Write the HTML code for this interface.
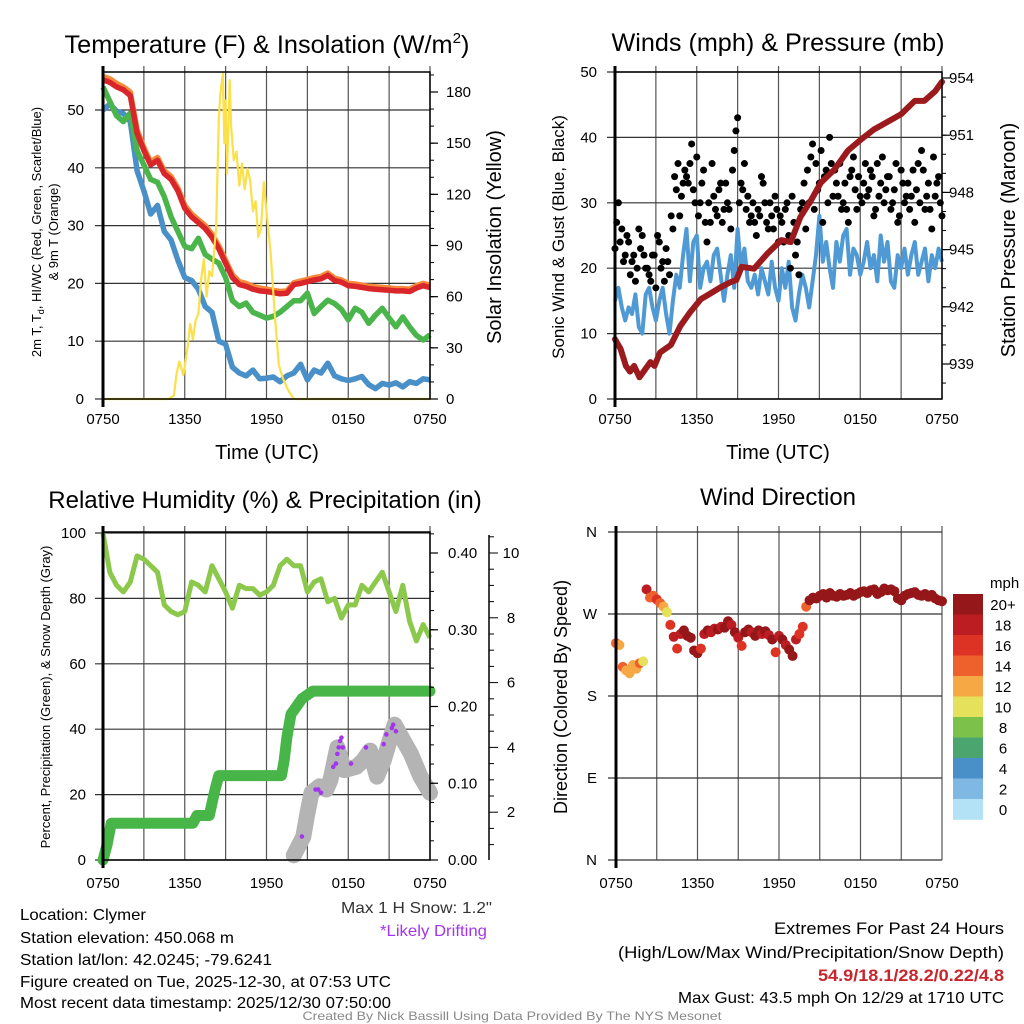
<!DOCTYPE html>
<html><head><meta charset="utf-8"><style>
html,body{margin:0;padding:0;background:#fff;}
svg{display:block;font-family:"Liberation Sans",sans-serif;}
</style></head><body>
<svg id="fig" width="1024" height="1024" viewBox="0 0 1024 1024" xmlns="http://www.w3.org/2000/svg">
<rect width="1024" height="1024" fill="#fff"/>
<g id="layer"></g>
<text x="267" y="53" font-size="25" text-anchor="middle" textLength="405" lengthAdjust="spacingAndGlyphs">Temperature (F) &amp; Insolation (W/m<tspan font-size="15" dy="-10">2</tspan><tspan dy="10">)</tspan></text>
<text x="778" y="51" font-size="25" text-anchor="middle" textLength="333" lengthAdjust="spacingAndGlyphs">Winds (mph) &amp; Pressure (mb)</text>
<text x="265" y="508" font-size="24" text-anchor="middle">Relative Humidity (%) &amp; Precipitation (in)</text>
<text x="778" y="505" font-size="24" text-anchor="middle">Wind Direction</text>
<text x="267" y="459" font-size="20" text-anchor="middle">Time (UTC)</text>
<text x="778" y="459" font-size="20" text-anchor="middle">Time (UTC)</text>
<text font-size="13" text-anchor="middle" transform="translate(41,232) rotate(-90)">2m T, T<tspan font-size="9" dy="3">d</tspan><tspan dy="-3">, HI/WC (Red, Green, Scarlet/Blue)</tspan></text>
<text font-size="13" text-anchor="middle" transform="translate(58,232) rotate(-90)">&amp; 9m T (Orange)</text>
<text font-size="20" text-anchor="middle" transform="translate(501,237) rotate(-90)">Solar Insolation (Yellow)</text>
<text font-size="17" text-anchor="middle" transform="translate(564,237) rotate(-90)">Sonic Wind &amp; Gust (Blue, Black)</text>
<text font-size="20" text-anchor="middle" transform="translate(1015,240) rotate(-90)">Station Pressure (Maroon)</text>
<text font-size="13" text-anchor="middle" transform="translate(50,697) rotate(-90)">Percent, Precipitation (Green), &amp; Snow Depth (Gray)</text>
<text font-size="18" text-anchor="middle" transform="translate(567,697) rotate(-90)">Direction (Colored By Speed)</text>
<text x="492" y="913" font-size="16" text-anchor="end" fill="#333" textLength="151" lengthAdjust="spacingAndGlyphs">Max 1 H Snow: 1.2"</text>
<text x="487" y="936" font-size="16" text-anchor="end" fill="#a335ee" textLength="107" lengthAdjust="spacingAndGlyphs">*Likely Drifting</text>
<text x="20" y="920" font-size="16" textLength="126" lengthAdjust="spacingAndGlyphs">Location: Clymer</text>
<text x="20" y="943" font-size="16" textLength="214" lengthAdjust="spacingAndGlyphs">Station elevation: 450.068 m</text>
<text x="20" y="965" font-size="16" textLength="252" lengthAdjust="spacingAndGlyphs">Station lat/lon: 42.0245; -79.6241</text>
<text x="20" y="987" font-size="16" textLength="371" lengthAdjust="spacingAndGlyphs">Figure created on Tue, 2025-12-30, at 07:53 UTC</text>
<text x="20" y="1008" font-size="16" textLength="371" lengthAdjust="spacingAndGlyphs">Most recent data timestamp: 2025/12/30 07:50:00</text>
<text x="1004" y="934" font-size="17" text-anchor="end" textLength="230" lengthAdjust="spacingAndGlyphs">Extremes For Past 24 Hours</text>
<text x="1004" y="958" font-size="17" text-anchor="end" textLength="386" lengthAdjust="spacingAndGlyphs">(High/Low/Max Wind/Precipitation/Snow Depth)</text>
<text x="1004" y="981" font-size="17" font-weight="bold" fill="#c8262d" text-anchor="end" textLength="186" lengthAdjust="spacingAndGlyphs">54.9/18.1/28.2/0.22/4.8</text>
<text x="1004" y="1003" font-size="16" text-anchor="end" textLength="326" lengthAdjust="spacingAndGlyphs">Max Gust: 43.5 mph On 12/29 at 1710 UTC</text>
<text x="512" y="1020" font-size="12" fill="#888" text-anchor="middle" textLength="419" lengthAdjust="spacingAndGlyphs">Created By Nick Bassill Using Data Provided By The NYS Mesonet</text>
</svg>
<script>
const xTickLabels = ["0750","1350","1950","0150","0750"];
const hours = [0,0.5,1,1.5,2,2.5,3,3.5,4,4.5,5,5.5,6,6.5,7,7.5,8,8.5,9,9.5,10,10.5,11,11.5,12,12.5,13,13.5,14,14.5,15,15.5,16,16.5,17,17.5,18,18.5,19,19.5,20,20.5,21,21.5,22,22.5,23,23.5,24];
const tempF = [55.2,54.8,54,53.5,52.5,46,43,40.5,41.3,39,38,36,33,31.5,30.5,29.5,28,26,23.5,21,19.8,19.5,19,18.7,18.6,18.4,18.2,18.3,19.8,20,20.3,20.6,20.8,21.4,20.5,20.2,19.6,19.5,19.3,19.1,19,18.9,18.8,18.7,18.7,18.6,19.2,19.6,19.3];
const dewF = [54,51.5,49,48,49.5,43,40.5,38,37.5,35,31.5,29,26.4,26,27.8,25,24.2,23.5,21,17,16,16.6,15,14.5,14,14.3,15,16,17,17,18.3,14.8,16,17.1,16.5,15.5,13.7,15.7,15,13.1,14.5,15.7,14,12.5,14.2,12.5,11,10.2,11.1];
const windChillF = [50,51,49.8,49.4,48,39.5,36,32,33.5,29,27.5,24,21,20.5,19,16,15,10,9.5,5.5,4.5,4,5,3.5,3.6,3.8,3,4,4.5,6,3.3,5,4.5,6.2,4,3.5,3.2,3.5,3.9,2.5,1.8,2.7,2.4,2.8,2.1,3,2.7,3.5,3.3];
const temp9mF = [55.8,55.4,54.6,54,53.1,46.6,43.5,41,41.8,39.5,38.5,36.5,33.5,32,31,30,28.5,26.5,24,21.5,20.3,20,19.5,19.2,19,18.8,18.6,18.7,20.1,20.4,20.7,21,21.2,21.8,20.9,20.6,20,19.9,19.7,19.5,19.4,19.3,19.2,19.1,19.1,19,19.6,20,19.7];
const solarHours = [0,4.8,5.2,5.4,5.6,5.9,6.2,6.4,6.6,6.8,7.0,7.2,7.4,7.6,7.8,8.0,8.2,8.3,8.5,8.6,8.8,8.9,9.0,9.1,9.3,9.4,9.6,9.8,10.0,10.2,10.4,10.6,10.8,11.0,11.2,11.4,11.6,11.8,12.0,12.3,12.6,12.9,13.2,13.6,14.0,24];
const solarW = [0,0,2,15,22,14,30,44,35,46,50,70,82,60,75,72,91,100,164,178,191,150,175,132,187,160,140,145,125,138,123,135,128,110,116,95,100,127,110,86,50,20,12,5,0,0];
const sonicStep = 0.25;
const sonicWind = [15,17,14,12,14,13,16,11,10, 16,17,14,12,15,17,13,10, 15,19,17,22,26,18,24,25, 17,20,21,18,22,23,19,15, 19,22,17,26,20,23,18,17, 19,16,20,18,16,21,17,15, 20,17,21,14,12,16,19,17, 14,18,22,28,21,24,20,17, 24,21,25,26,19,23,22,19, 21,24,20,22,18,25,21,24, 18,17,22,20,23,19,22,24, 19,21,23,18,22,20,23,21];
const gustHoursStep = 0.25;
const gusts = [23,30,26,22,24,21,18,26,25, 20,19,22,17,24,21,23,19, 26,32,28,33,34,36,32,37, 30,35,24,27,31,28,33,29, 30,26,38,43,33,36,31,28, 27,29,34,30,26,28,31,24, 27,29,25,31,22,19,30,26, 30,39,36,33,27,35,40,31, 33,36,30,29,34,37,29,31, 33,31,35,28,36,33,30,34, 29,32,27,35,30,33,31,27, 36,38,29,33,26,31,34,28];
const gusts2 = [27,24,21,25,19,22,20,23, 22,20,18,22,25,20,18,21, 28,34,36,31,35,33,39,30, 28,33,27,30,36,29,32,27, 33,29,35,41,30,32,29,27, 30,25,28,33,27,30,26,29, 28,24,30,20,27,24,29,33, 35,37,29,32,38,34,30,36, 35,31,29,33,27,35,32,34, 30,36,32,34,29,31,37,32, 34,30,36,28,33,31,29,35, 32,30,35,31,29,37,33,30];
const pressHours = [0,0.4,0.8,1.1,1.4,1.8,2.6,2.9,3.3,4.1,4.8,5.5,6.3,7,7.7,8.5,8.9,9.3,10.2,11.2,12.2,12.9,13.6,14.4,15.1,16.1,17.1,18.1,19,20,21,22,22.7,23.5,24];
const pressureMb = [940.3,939.8,938.9,938.6,938.9,938.3,939.1,938.9,939.6,940,941,941.7,942.4,942.7,943,943.3,943.4,944.1,944,944.8,945.5,945.4,946.7,947.6,948.5,949.2,950.2,950.8,951.3,951.7,952.1,952.8,952.8,953.3,953.8];
const dirStep = 0.25;
const windDir = [238,236,212,208,205,214,210,216,218, 297,288,290,286,282,278,272,258, 245,232,248,252,246,244,230,227, 232,248,252,250,254,253,256,255, 262,258,250,244,235,250,253,250, 246,252,248,251,247,242,228,246, 242,236,231,224,242,248,256,278, 285,288,287,290,292,288,293,290, 289,292,290,291,293,290,292,294, 295,293,296,297,292,294,298,296, 297,295,287,285,290,292,293,294, 291,290,292,289,291,287,285,284];
const windSpd = [14,13,15,12,12,13,12,14,10, 18,14,15,16,14,12,10,16, 18,16,19,21,20,22,21,22, 16,18,20,19,18,21,19,20, 20,18,21,19,17,21,20,19, 21,20,19,21,18,20,17,19, 20,18,21,22,19,17,16,14, 21,22,23,21,22,24,21,22, 23,22,21,24,22,23,21,22, 22,24,23,21,22,23,24,22, 21,23,22,21,22,24,22,23, 22,21,23,22,21,22,23,21];
const speedLabels = ["20+","18","16","14","12","10","8","6","4","2","0"];
const rhPct = [100,88,84,82,85,93,92,90,88,78,76,75,76,85,84,82,90,86,82,77,84,83,83,81,82,84,90,92,90,90,82,85,86,79,80,74,78,78,84,82,85,88,82,76,84,73,67,72,68];
const precipHours = [0,0.3,0.6,6.6,6.9,7.8,8.2,8.5,13.1,13.3,13.5,13.8,14.2,14.6,15.4,24];
const precipIn = [0,0.02,0.048,0.048,0.058,0.058,0.09,0.11,0.11,0.13,0.16,0.19,0.20,0.21,0.22,0.22];
const snowHours = [14,14.7,15,15.3,15.9,16.4,16.7,17.2,17.7,18.6,19.1,19.6,20.1,20.6,21.1,21.4,21.8,22.6,23.3,24];
const snowIn = [0.67,1.24,1.96,2.6,2.8,2.7,3.0,4.0,3.3,3.4,3.6,3.9,3.1,3.6,4.3,4.7,4.4,3.8,3.1,2.6];
const driftHours = [14.6,15.6,15.8,16.0,16.9,17.1,17.2,17.3,17.4,17.5,17.6,18.2,19.3,20.6,20.8,21.2,21.3,21.5];
const driftIn = [1.25,2.7,2.7,2.6,3.4,3.5,3.8,4.0,4.2,4.3,4.0,3.5,4.0,4.1,4.4,4.6,4.7,4.5];
const tempTicks = [0,10,20,30,40,50];
const solarTicks = [0,30,60,90,120,150,180];
const windTicks = [0,10,20,30,40,50];
const pressTicks = [939,942,945,948,951,954];
const dirTicks = [0,90,180,270,360];
const dirLabels = ["N","E","S","W","N"];
const rhTicks = [0,20,40,60,80,100];
const precipTicks = [0,0.1,0.2,0.3,0.4];
const snowTicks = [2,4,6,8,10];
const speedColors = ["#951719","#bb1d22","#dc3325","#ef612c","#f5a843","#e5e15a","#7cc24a","#4aa56e","#4a90c8","#7fb9e3","#b3e2f7"];

const NS = "http://www.w3.org/2000/svg";
const layer = document.getElementById("layer");
function mk(tag, attrs, parent){ const e=document.createElementNS(NS,tag); for(const k in attrs) e.setAttribute(k,attrs[k]); (parent||layer).appendChild(e); return e; }
function xScale(x0,x1){ return h => x0 + h*(x1-x0)/24; }
function lin(v0,p0,v1,p1){ return v => p0 + (v-v0)*(p1-p0)/(v1-v0); }
function pathFrom(xs, ys, fx, fy){ return xs.map((h,i)=>(i?"L":"M")+fx(h).toFixed(1)+","+fy(ys[i]).toFixed(1)).join(""); }
function stepHours(n, step, off){ const a=[]; for(let i=0;i<n;i++) a.push((off||0)+i*step); return a; }
function grid(x0,x1,y0,y1,yVals,fy,parent){
  for(let k=0;k<=8;k++){ const x=x0+k*(x1-x0)/8; const l=mk("line",{x1:x,x2:x,y1:y0-6,y2:y1,stroke:"#555","stroke-width":1.2},parent);
      }
  yVals.forEach(v=>{ const y=fy(v); const l=mk("line",{x1:x0-8,x2:x1,y1:y,y2:y,stroke:"#333","stroke-width":1.2},parent);
      });
}
function frame(x0,x1,y0,y1,parent){
  const r=mk("rect",{x:x0,y:y0,width:x1-x0,height:y1-y0,fill:"none",stroke:"#000","stroke-width":1.5},parent);
   
  const l=mk("line",{x1:x0,x2:x0,y1:y0-6,y2:y1+8,stroke:"#000","stroke-width":3},parent);
   
}
function xLabels(x0,x1,y,parent){
  xTickLabels.forEach((t,i)=>{ const e=mk("text",{x:x0+i*(x1-x0)/4,y:y,"font-size":15,"text-anchor":"middle"},parent); e.textContent=t;
      });
}
function leftLabels(vals,fy,x,parent,labels){
  vals.forEach((v,i)=>{ const e=mk("text",{x:x,y:fy(v)+5,"font-size":15,"text-anchor":"end"},parent); e.textContent=labels?labels[i]:v;
      });
}
function rightAxis(xs,vals,fy,minorStep,minV,maxV,parent,fmt,labX){
  for(let v=minV; v<=maxV+1e-9; v+=minorStep){ const y=fy(v); mk("line",{x1:xs,x2:xs+4,y1:y,y2:y,stroke:"#000","stroke-width":1},parent); }
  vals.forEach(v=>{ const y=fy(v); mk("line",{x1:xs,x2:xs+8,y1:y,y2:y,stroke:"#000","stroke-width":1.2},parent);
    const e=mk("text",{x:labX,y:y+5,"font-size":15},parent); e.textContent=fmt?fmt(v):v;
      });
}

(function(){
  const g=mk("g",{});  
  const X0=103,X1=430,Y0=72,Y1=399;
  const fx=xScale(X0,X1), fy=lin(0,399,50,110), fs=lin(0,399,180,92);
  grid(X0,X1,Y0,Y1,tempTicks,fy,g);
  const s1=mk("path",{d:pathFrom(hours,windChillF,fx,fy),fill:"none",stroke:"#4a90c8","stroke-width":5.5,"stroke-linejoin":"round"},g);
   
  const s2=mk("path",{d:pathFrom(hours,dewF,fx,fy),fill:"none",stroke:"#4ab54a","stroke-width":5.5,"stroke-linejoin":"round"},g);
   
  const s3=mk("path",{d:pathFrom(hours,temp9mF,fx,fy),fill:"none",stroke:"#f58a3c","stroke-width":5.5,"stroke-linejoin":"round"},g);
   
  const s4=mk("path",{d:pathFrom(hours,tempF,fx,fy),fill:"none",stroke:"#d9262a","stroke-width":5.5,"stroke-linejoin":"round"},g);
   
  const s5=mk("path",{d:pathFrom(solarHours,solarW,fx,fs),fill:"none",stroke:"#fbe04a","stroke-width":2.2,"stroke-linejoin":"round"},g);
   
  frame(X0,X1,Y0,Y1,g);
  leftLabels(tempTicks,fy,84,g);
  xLabels(X0,X1,424,g);
  rightAxis(X1,solarTicks,fs,10,0,190,g,null,446);
})();

(function(){
  const g=mk("g",{});  
  const X0=615,X1=942,Y0=72,Y1=399;
  const fx=xScale(X0,X1), fy=lin(0,399,50,72), fp=lin(954,78,939,364);
  grid(X0,X1,Y0,Y1,windTicks,fy,g);
  const b=mk("path",{d:pathFrom(stepHours(sonicWind.length,sonicStep),sonicWind,fx,fy),fill:"none",stroke:"#4f9ad4","stroke-width":4,"stroke-linejoin":"round"},g);
   
  gusts.forEach((v,i)=>{ const c=mk("circle",{cx:fx(i*gustHoursStep),cy:fy(v),r:3.5,fill:"#000"},g);
      });
  gusts2.forEach((v,i)=>{ const c=mk("circle",{cx:fx(0.125+i*gustHoursStep),cy:fy(v),r:3.5,fill:"#000"},g);
      });
  const p=mk("path",{d:pathFrom(pressHours,pressureMb,fx,fp),fill:"none",stroke:"#9b1a1d","stroke-width":6,"stroke-linejoin":"round","stroke-linecap":"round"},g);
   
  frame(X0,X1,Y0,Y1,g);
  leftLabels(windTicks,fy,597,g);
  xLabels(X0,X1,424,g);
  rightAxis(X1,pressTicks,fp,1,938,954,g,null,949);
})();

(function(){
  const g=mk("g",{});  
  const X0=616,X1=942,Y0=532,Y1=860;
  const fx=xScale(X0,X1), fy=lin(0,860,360,532);
  grid(X0,X1,Y0,Y1,dirTicks,fy,g);
  function col(s){ let k=Math.floor(s/2); if(k>10)k=10; return speedColors[10-k]; }
  windDir.forEach((d,i)=>{ const c=mk("circle",{cx:fx(i*dirStep),cy:fy(d),r:5,fill:col(windSpd[i])},g);
      });
  const l=mk("line",{x1:X0,x2:X0,y1:Y0-6,y2:Y1+8,stroke:"#000","stroke-width":3},g);
   
  leftLabels(dirTicks,fy,597,g,dirLabels);
  xLabels(X0,X1,888,g);
  const cb=mk("g",{},g);  
  const t=mk("text",{x:990,y:588,"font-size":15},cb); t.textContent="mph";
   
  speedLabels.forEach((s,i)=>{ const y=594+i*20.5;
    const r=mk("rect",{x:953,y:y,width:30,height:20.8,fill:speedColors[i]},cb);
     
    const e=mk("text",{x:1003,y:y+16,"font-size":15,"text-anchor":"middle"},cb); e.textContent=s;
      });
})();

(function(){
  const g=mk("g",{});  
  const X0=103,X1=430,Y0=532,Y1=860;
  const fx=xScale(X0,X1), fy=lin(0,860,100,533), fpr=lin(0,860,0.4,553), fsn=lin(0,877,10,553);
  grid(X0,X1,Y0,Y1,rhTicks,fy,g);
  const rh=mk("path",{d:pathFrom(hours,rhPct,fx,fy),fill:"none",stroke:"#8cc84b","stroke-width":5,"stroke-linejoin":"round"},g);
   
  const pr=mk("path",{d:pathFrom(precipHours,precipIn,fx,fpr),fill:"none",stroke:"#47b548","stroke-width":11,"stroke-linejoin":"round","stroke-linecap":"round"},g);
   
  const sn=mk("path",{d:pathFrom(snowHours,snowIn,fx,fsn),fill:"none",stroke:"#b4b4b4","stroke-width":16,"stroke-linejoin":"round","stroke-linecap":"round"},g);
   
  driftHours.forEach((h,i)=>{ const c=mk("circle",{cx:fx(h),cy:fsn(driftIn[i]),r:2.3,fill:"#a335ee"},g);
      });
  frame(X0,X1,Y0,Y1,g);
  leftLabels(rhTicks,fy,86,g);
  xLabels(X0,X1,888,g);
  rightAxis(X1,precipTicks,fpr,0.025,0,0.425,g,v=>v.toFixed(2),448);
  const sp=mk("line",{x1:489,x2:489,y1:535,y2:860,stroke:"#000","stroke-width":1.5},g);
   
  for(let v=0.5; v<=10.5; v+=0.5){ const y=fsn(v); if(y<860 && y>535) mk("line",{x1:489,x2:489+(v%2===0?9:5),y1:y,y2:y,stroke:"#000","stroke-width":1},g); }
  snowTicks.forEach(v=>{ const e=mk("text",{x:511,y:fsn(v)+5,"font-size":15,"text-anchor":"middle"},g); e.textContent=v;
      });
})();
</script>
</body></html>
